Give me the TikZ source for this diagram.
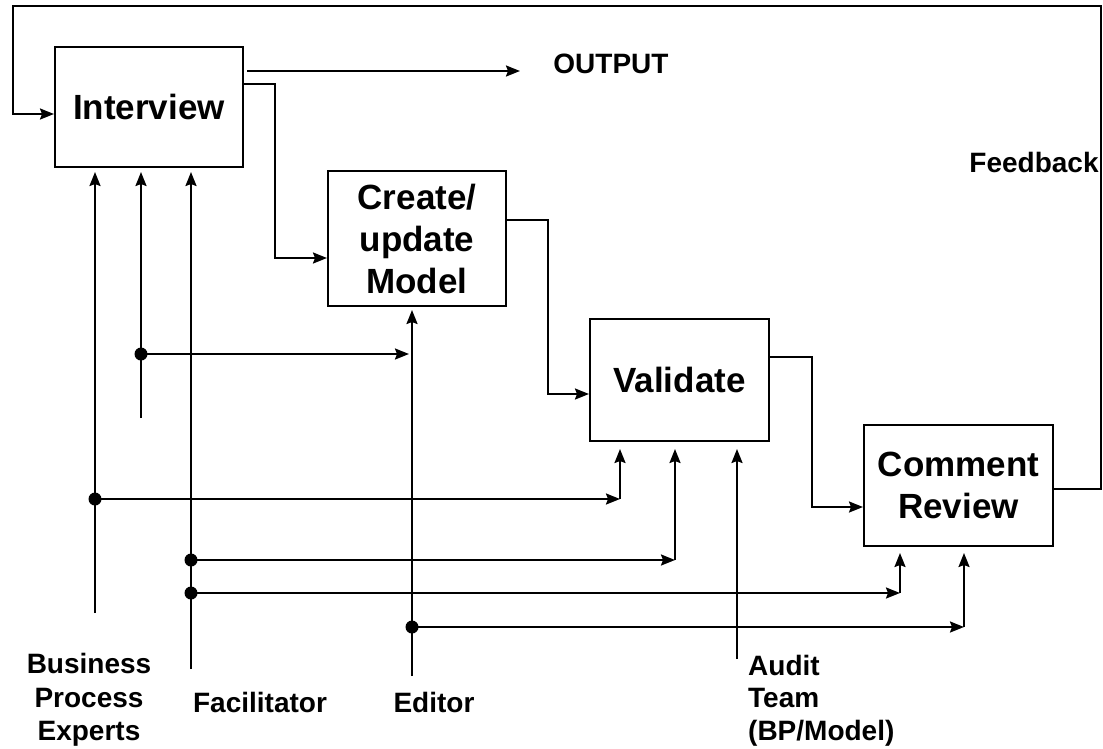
\documentclass[tikz,border=0pt]{standalone}
\usepackage{fontspec}
\setmainfont{Liberation Sans}
\usetikzlibrary{arrows.meta,calc}

\begin{document}
\begin{tikzpicture}[x=1pt,y=-1pt,
  stage/.style={draw, line width=2pt, inner sep=0pt, align=center,
    font=\fontsize{35}{42}\selectfont\bfseries},
  role/.style={inner sep=0pt, align=center,
    font=\fontsize{28}{33}\selectfont\bfseries},
  flow/.style={line width=2.1pt, -{Stealth[length=14pt,width=11pt,inset=2pt]}},
  junction/.style={circle, fill, inner sep=0pt, minimum size=13pt}
]
\useasboundingbox (0,0) rectangle (1103,748);

% process stages
\node[stage, minimum width=188pt, minimum height=120pt] (interview) at (149,107) {Interview};
\node[stage, minimum width=178pt, minimum height=135pt] (create) at (417,238.5) {Create/\\update\\Model};
\node[stage, minimum width=179pt, minimum height=122pt] (validate) at (679.5,380) {Validate};
\node[stage, minimum width=189pt, minimum height=121pt] (comment) at (958.5,485.5) {Comment\\Review};

% labels
\node[role, anchor=base] (output) at (611,73) {OUTPUT};
\node[role, anchor=base] (feedback) at (1034,172) {Feedback};
\node[role, anchor=north, font=\fontsize{28}{33.5}\selectfont\bfseries] (bpe) at (89,653) {Business\\Process\\Experts};
\node[role, anchor=base] (fac) at (260,712) {Facilitator};
\node[role, anchor=base] (editor) at (434,712) {Editor};
\node[role, anchor=north west, align=left, font=\fontsize{28}{32.5}\selectfont\bfseries] (audit) at (748,654.5) {Audit\\Team\\(BP/Model)};

% free ends of the role lines
\coordinate (bpFoot) at (95,613);
\coordinate (spFoot) at (141,418);
\coordinate (facFoot) at (191,669);
\coordinate (edFoot) at (412,676);
\coordinate (auFoot) at (737,659);

% branch points
\node[junction] (jA) at (141,354) {};
\node[junction] (jB) at (95,499) {};
\node[junction] (jC) at (191,560) {};
\node[junction] (jD) at (191,593) {};
\node[junction] (jE) at (412,627) {};

% corners of the branch lines
\coordinate (kA) at (409,354);
\coordinate (kB) at (620,499);
\coordinate (kC) at (675,560);
\coordinate (kD) at (900,593);
\coordinate (kE) at (964,627);

% bends of the main flow
\coordinate (outTip) at (520,71);
\coordinate (bendA) at (275,84);
\coordinate (cIn) at (0,258);
\coordinate (bendB) at (548,220);
\coordinate (vIn) at (0,394);
\coordinate (bendC) at (812,357);
\coordinate (rIn) at (0,507);
\coordinate (fbOut) at (0,489);
\coordinate (fbR) at (1101,6);
\coordinate (fbL) at (13,6);
\coordinate (fbIn) at (13,114);

% main flow
\draw[flow] ($(interview.east |- outTip)+(3,0)$) -- (outTip);
\draw[flow] (interview.east |- bendA) -- (bendA) |- (create.west |- cIn);
\draw[flow] (create.east |- bendB) -- (bendB) |- (validate.west |- vIn);
\draw[flow] (validate.east |- bendC) -- (bendC) |- (comment.west |- rIn);
\draw[flow] (comment.east |- fbOut) -| (fbR) -- (fbL) -- (fbIn) -- (interview.west |- fbIn);

% role lines into the stages
\draw[flow, shorten >=4pt] (bpFoot) -- (bpFoot |- interview.south);
\draw[flow, shorten >=4pt] (spFoot) -- (spFoot |- interview.south);
\draw[flow, shorten >=4pt] (facFoot) -- (facFoot |- interview.south);
\draw[flow, shorten >=3pt] (edFoot) -- (edFoot |- create.south);
\draw[flow, shorten >=7pt] (auFoot) -- (auFoot |- validate.south);

% branches
\draw[flow] (jA.center) -- (kA);
\draw[flow] (jB.center) -- (kB);
\draw[flow, shorten >=7pt] (kB) -- (kB |- validate.south);
\draw[flow] (jC.center) -- (kC);
\draw[flow, shorten >=7pt] (kC) -- (kC |- validate.south);
\draw[flow] (jD.center) -- (kD);
\draw[flow, shorten >=6pt] (kD) -- (kD |- comment.south);
\draw[flow] (jE.center) -- (kE);
\draw[flow, shorten >=6pt] (kE) -- (kE |- comment.south);
\end{tikzpicture}
\end{document}
